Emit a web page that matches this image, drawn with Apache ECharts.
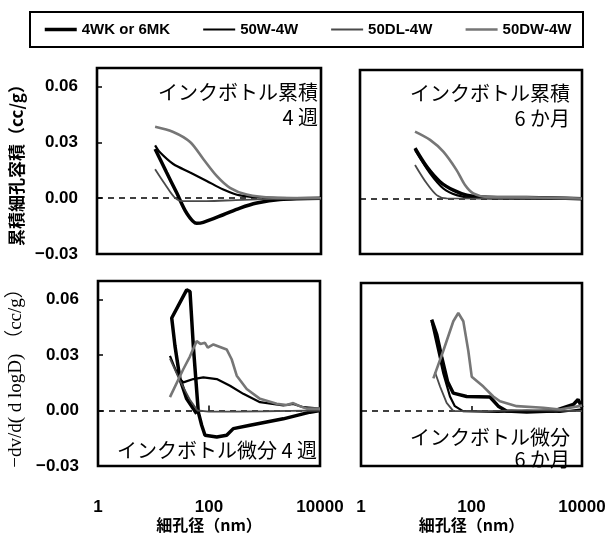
<!DOCTYPE html>
<html>
<head>
<meta charset="utf-8">
<script src="https://cdn.jsdelivr.net/npm/echarts@6/dist/echarts.min.js"></script>
<style>
  html, body { margin: 0; padding: 0; background: #fff; }
  #chart { width: 613px; height: 534px; }
</style>
</head>
<body>
<div id="chart"></div>
<script>
// Series names (legend order)
const seriesNames = ['4WK or 6MK', '50W-4W', '50DL-4W', '50DW-4W'];

// Axis ticks and their labels
const xTicks = [1, 100, 10000];
const xTickLabels = ['1', '100', '10000'];
const yTicks = [-0.03, 0, 0.03, 0.06];
const yTickLabels = ['−0.03', '0.00', '0.03', '0.06'];

// Cumulative ink-bottle pore volume, 4 weeks: [pore diameter nm, cc/g]
const cum4w_4WK = [[10.9,0.0265],[17.5,0.0138],[26.5,0.0029],[39.9,-0.008],[60,-0.0135],[79,-0.013],[180,-0.0089],[358,-0.0053],[711,-0.0026],[1850,-0.0007],[10000,0]];
const cum4w_50W = [[10.9,0.0284],[13.3,0.0247],[23,0.0184],[46,0.0138],[91,0.0093],[180,0.0047],[358,0.0015],[1070,0.0003],[10000,0]];
const cum4w_50DL = [[10.9,0.0156],[16.4,0.0075],[24.7,0.0002],[35,-0.0016],[91,-0.0016],[300,-0.001],[1000,-0.0005],[10000,0]];
const cum4w_50DW = [[10.9,0.0384],[23,0.0356],[46,0.0302],[79,0.0211],[137,0.012],[237,0.0056],[471,0.002],[1410,0.0003],[10000,0]];

// Cumulative ink-bottle pore volume, 6 months
const cum6m_4WK = [[9.8,0.0275],[15.9,0.0175],[27.6,0.0093],[48,0.0047],[84,0.002],[200,0.0009],[1000,0.0007],[3000,0.0004],[10000,0]];
const cum6m_50W = [[9.8,0.0265],[18.3,0.0138],[31.7,0.0056],[55,0.002],[110,0.0005],[10000,0]];
const cum6m_50DL = [[9.8,0.0184],[15.9,0.0084],[24.1,0.002],[36.5,0.0002],[10000,0]];
const cum6m_50DW = [[9.8,0.0365],[18.3,0.032],[31.7,0.0256],[55,0.0156],[78,0.0075],[110,0.0029],[192,0.001],[1000,0.0008],[10000,0.0002]];

// Differential ink-bottle pore volume -dv/d(logD), 4 weeks
const diff4w_4WK = [[60,-0.0018],[39.6,0.0063],[30,0.017],[24.4,0.0348],[21.3,0.050],[39.6,0.0652],[45.5,0.0643],[52.2,0.0348],[64.2,-0.0009],[73.8,-0.008],[84.7,-0.0134],[138,-0.0143],[208,-0.0134],[274,-0.0098],[548,-0.008],[2180,-0.0045],[6600,-0.0009],[10000,0]];
const diff4w_50W = [[19.8,0.0295],[25,0.022],[30,0.017],[34.5,0.0152],[52.2,0.017],[79,0.0179],[138,0.017],[239,0.0134],[415,0.009],[830,0.0045],[2180,0.0027],[3300,0.0036],[5000,0.0018],[10000,0.001]];
const diff4w_50DL = [[19.8,0.028],[30,0.016],[45,0.006],[62,0.0],[100,-0.0006],[300,-0.0006],[1000,-0.0004],[3000,-0.0002],[10000,0]];
const diff4w_50DW = [[19.8,0.0072],[34.4,0.0223],[45,0.029],[60,0.0375],[70,0.036],[84.7,0.0366],[95,0.034],[120,0.0357],[208,0.033],[256,0.0277],[316,0.0188],[478,0.0116],[830,0.0063],[1660,0.0036],[2500,0.003],[3300,0.004],[4200,0.0025],[5750,0.001],[10000,0.001]];

// Differential ink-bottle pore volume -dv/d(logD), 6 months
const diff6m_4WK = [[19,0.050],[23.4,0.042],[28.9,0.0295],[37,0.016],[46.9,0.0098],[81.8,0.008],[216,0.0077],[305,0.0027],[430,0.0],[1000,-0.0005],[3000,0.0],[6970,0.0036],[8500,0.0063],[10000,0.002]];
const diff6m_50W = [[19,0.049],[25,0.033],[30.9,0.0206],[40.8,0.008],[50,0.0027],[70,0.0],[300,-0.0005],[1000,0],[4000,-0.0005],[10000,0.001]];
const diff6m_50DL = [[21.8,0.0214],[27,0.0134],[35.5,0.0045],[47,0],[200,0],[1000,0.0005],[10000,0]];
const diff6m_50DW = [[20.4,0.0179],[30.9,0.033],[46.9,0.0491],[57.7,0.0536],[71.1,0.0491],[87.5,0.033],[101,0.0188],[164,0.0134],[248,0.008],[328,0.0054],[657,0.0027],[2000,0.0018],[4000,0.0009],[10000,0.003]];

// Panel titles
const titleCum4w = ['インクボトル累積', '4 週'];
const titleCum6m = ['インクボトル累積', '6 か月'];
const titleDiff4w = ['インクボトル微分 4 週'];
const titleDiff6m = ['インクボトル微分', '6 か月'];

const yNameCum = '累積細孔容積（cc/g）';
const yNameDiff = '−dv/d( d logD) （cc/g）';
const xName = '細孔径（nm）';

const lineStyles = [
  { color: '#000', width: 3.5 },
  { color: '#000', width: 2.2 },
  { color: '#4a4a4a', width: 1.8 },
  { color: '#767676', width: 2.6 }
];

const panels = [
  { grid: { left: 97, top: 68, width: 224, height: 186 }, curves: [cum4w_4WK, cum4w_50W, cum4w_50DL, cum4w_50DW], smooth: 0.3, left: true, bottom: false },
  { grid: { left: 360, top: 70, width: 222, height: 184 }, curves: [cum6m_4WK, cum6m_50W, cum6m_50DL, cum6m_50DW], smooth: 0.3, left: false, bottom: false },
  { grid: { left: 98, top: 281, width: 222, height: 185 }, curves: [diff4w_4WK, diff4w_50W, diff4w_50DL, diff4w_50DW], smooth: false, left: true, bottom: true },
  { grid: { left: 361, top: 283, width: 221, height: 183 }, curves: [diff6m_4WK, diff6m_50W, diff6m_50DL, diff6m_50DW], smooth: false, left: false, bottom: true }
];

const labelFont = { color: '#000', fontSize: 17, fontWeight: 'bold', fontFamily: 'Liberation Sans, Arial, sans-serif' };

function xLabel(v) {
  const i = xTicks.findIndex(t => Math.abs(Math.log10(t) - Math.log10(v)) < 1e-6);
  return i >= 0 ? xTickLabels[i] : '';
}
function yLabel(v) {
  const i = yTicks.findIndex(t => Math.abs(t - v) < 1e-9);
  return i >= 0 ? yTickLabels[i] : '';
}

const grids = [], xAxes = [], yAxes = [], series = [];
panels.forEach((p, gi) => {
  grids.push(Object.assign({ show: true, borderColor: '#000', borderWidth: 2.6, backgroundColor: 'transparent' }, p.grid));
  xAxes.push({
    type: 'log', gridIndex: gi, min: 1, max: 10000, logBase: 100,
    axisLine: { show: false },
    axisTick: { show: p.bottom, inside: true, length: 5, lineStyle: { color: '#000', width: 1.5 } },
    axisLabel: Object.assign({ show: p.bottom, margin: 33, formatter: xLabel }, labelFont),
    splitLine: { show: false },
    name: p.bottom ? xName : '',
    nameLocation: 'middle', nameGap: 50,
    nameTextStyle: { color: '#000', fontSize: 16, fontWeight: 'bold', fontFamily: 'Noto Sans CJK JP' }
  });
  yAxes.push({
    type: 'value', gridIndex: gi, min: -0.03, max: 0.07, interval: 0.03,
    axisLine: { show: false },
    axisTick: { show: p.left, inside: true, length: 5, lineStyle: { color: '#000', width: 1.5 } },
    axisLabel: Object.assign({ show: p.left, margin: 19, formatter: yLabel, showMaxLabel: false, showMinLabel: true }, labelFont),
    splitLine: { show: false },
    name: p.left ? (gi === 0 ? yNameCum : yNameDiff) : '',
    nameLocation: 'middle', nameRotate: 90, nameGap: 72,
    nameTextStyle: gi === 0
      ? { color: '#000', fontSize: 17, fontWeight: 'bold', fontFamily: 'Noto Sans CJK JP' }
      : { color: '#000', fontSize: 19, fontFamily: 'Liberation Serif, Noto Sans CJK JP, serif' }
  });
  p.curves.forEach((data, si) => {
    const s = {
      type: 'line', name: seriesNames[si], xAxisIndex: gi, yAxisIndex: gi,
      data: data, symbol: 'none', smooth: p.smooth, clip: true,
      lineStyle: Object.assign({ type: 'solid' }, lineStyles[si]),
      itemStyle: { color: lineStyles[si].color },
      emphasis: { disabled: true }, z: 3
    };
    if (si === 0) {
      s.markLine = {
        silent: true, symbol: 'none', label: { show: false },
        lineStyle: { type: [6, 5], color: '#000', width: 1.5 },
        data: [{ yAxis: 0 }], z: 2
      };
    }
    series.push(s);
  });
});

// Panel title texts
const titleFont = { fill: '#000', fontSize: 20, fontFamily: 'Noto Sans CJK JP', textAlign: 'right', textVerticalAlign: 'middle' };
function titleText(text, x, y) {
  return { type: 'text', x: x, y: y, z: 10, style: Object.assign({ text: text }, titleFont) };
}
const graphics = [
  { type: 'rect', shape: { x: 30, y: 12, width: 553, height: 35 }, style: { fill: 'none', stroke: '#000', lineWidth: 2 }, z: 1 },
  titleText(titleCum4w[0], 318, 92), titleText(titleCum4w[1], 318, 117),
  titleText(titleCum6m[0], 570, 93), titleText(titleCum6m[1], 570, 118),
  titleText(titleDiff4w[0], 317, 450),
  titleText(titleDiff6m[0], 570, 437), titleText(titleDiff6m[1], 570, 459)
];

const chart = echarts.init(document.getElementById('chart'), null, { renderer: 'canvas' });
chart.setOption({
  animation: false,
  backgroundColor: '#fff',
  legend: {
    data: seriesNames.map((n, i) => ({ name: n, lineStyle: { width: lineStyles[i].width, color: lineStyles[i].color } })),
    left: 43, top: 22, itemWidth: 32, itemHeight: 14, itemGap: 32,
    padding: 0, selectedMode: false,
    itemStyle: { opacity: 0 },
    textStyle: { color: '#000', fontSize: 15, fontWeight: 'bold', fontFamily: 'Liberation Sans, Arial, sans-serif' }
  },
  grid: grids, xAxis: xAxes, yAxis: yAxes, series: series, graphic: graphics
});
</script>
</body>
</html>
